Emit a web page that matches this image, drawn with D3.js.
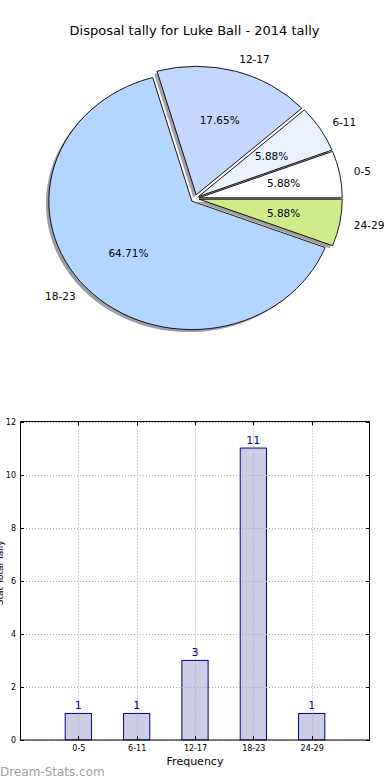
<!DOCTYPE html>
<html><head><meta charset="utf-8">
<script src="https://cdn.jsdelivr.net/npm/d3@7"></script>
<style>body{margin:0;background:#fff}svg{display:block}text{font-family:"DejaVu Sans",sans-serif}</style>
</head><body>
<svg id="c" width="390" height="780"></svg>
<script>
const categories = ["0-5","6-11","12-17","18-23","24-29"];
const values = [1,1,3,11,1];
const sliceColors = ["#ffffff","#e9f1ff","#c4d8ff","#b4d5ff","#cfeb8b"];
const yTicks = [0,2,4,6,8,10,12];
const title = "Disposal tally for Luke Ball - 2014 tally";
const xLabel = "Frequency";
const yLabel = "Stat Total Tally";

const svg = d3.select("#c");
svg.append("rect").attr("width",390).attr("height",780).attr("fill","#fff");

svg.append("text").attr("x",194.5).attr("y",35).attr("text-anchor","middle")
  .attr("font-size",13).attr("fill","#000").text(title);

// ---------- pie ----------
const cx=195, cy=198.5, rx=143, ry=128.5, EXPLODE=0.03;
const total = d3.sum(values);
const pie = d3.pie().sort(null).startAngle(Math.PI/2).endAngle(Math.PI/2-2*Math.PI);
const arcs = pie(values);
const arcGen = d3.arc().innerRadius(0).outerRadius(rx);
function off(d){
  const a=(d.startAngle+d.endAngle)/2;
  return {a, ox: EXPLODE*rx*Math.sin(a), oy: -EXPLODE*ry*Math.cos(a)};
}
const gp = svg.append("g");
// shadows
gp.selectAll("path.sh").data(arcs).join("path").attr("class","sh")
  .attr("d",arcGen)
  .attr("transform",d=>{const o=off(d);return `translate(${cx+o.ox-2.9},${cy+o.oy+2.5}) scale(1,${ry/rx})`;})
  .attr("fill",(d,i)=>{const c=d3.rgb(sliceColors[i]);return d3.rgb(c.r*0.3,c.g*0.3,c.b*0.3);})
  .attr("fill-opacity",0.5).attr("stroke","none");
gp.selectAll("path.w").data(arcs).join("path").attr("class","w")
  .attr("d",arcGen)
  .attr("transform",d=>{const o=off(d);return `translate(${cx+o.ox},${cy+o.oy}) scale(1,${ry/rx})`;})
  .attr("fill",(d,i)=>sliceColors[i]).attr("stroke","#000").attr("stroke-width",0.9)
  .attr("vector-effect","non-scaling-stroke").attr("stroke-linejoin","round");
// labels
gp.selectAll("text.lab").data(arcs).join("text").attr("class","lab")
  .attr("x",d=>{const o=off(d);return cx+o.ox+1.1*rx*Math.sin(o.a);})
  .attr("y",d=>{const o=off(d);return cy+o.oy-1.1*ry*Math.cos(o.a);})
  .attr("dy","0.35em")
  .attr("text-anchor",d=>Math.sin(off(d).a)>0?"start":"end")
  .attr("font-size",10.5).attr("fill","#000")
  .text((d,i)=>categories[i]);
gp.selectAll("text.pct").data(arcs).join("text").attr("class","pct")
  .attr("x",d=>{const o=off(d);return cx+o.ox+0.6*rx*Math.sin(o.a);})
  .attr("y",d=>{const o=off(d);return cy+o.oy-0.6*ry*Math.cos(o.a);})
  .attr("dy","0.35em").attr("text-anchor","middle")
  .attr("font-size",10.5).attr("fill","#000")
  .text(d=>(d.value/total*100).toFixed(2)+"%");

// ---------- bar ----------
const L=20,R=370,T=421.5,B=740;
const x = d3.scaleLinear().domain([-1,categories.length]).range([L,R]);
const y = d3.scaleLinear().domain([0,12]).range([B,T]);
const gb = svg.append("g");
const bw = 0.45;
gb.selectAll("rect.bar").data(values).join("rect").attr("class","bar")
  .attr("x",(d,i)=>x(i-bw/2)).attr("width",(d,i)=>x(i+bw/2)-x(i-bw/2))
  .attr("y",d=>y(d)).attr("height",d=>y(0)-y(d))
  .attr("fill","#cccce5").attr("stroke","#000080").attr("stroke-width",1);
// grid
const grid = gb.append("g").attr("stroke","#aaa").attr("stroke-width",1).attr("stroke-dasharray","1,2");
grid.selectAll("line.h").data(yTicks).join("line")
  .attr("x1",L).attr("x2",R).attr("y1",d=>Math.round(y(d))+0.5).attr("y2",d=>Math.round(y(d))+0.5);
grid.selectAll("line.v").data(categories).join("line")
  .attr("y1",T).attr("y2",B).attr("x1",(d,i)=>Math.round(x(i))+0.5).attr("x2",(d,i)=>Math.round(x(i))+0.5);
// value labels
gb.selectAll("text.val").data(values).join("text")
  .attr("x",(d,i)=>x(i)).attr("y",d=>y(d)-4).attr("text-anchor","middle")
  .attr("font-size",11).attr("fill","#00008b").text(d=>d);
// axes via d3
const yAxis = d3.axisLeft(y).tickValues(yTicks).tickSize(0).tickPadding(4);
const ya = gb.append("g").attr("transform",`translate(${L},0)`).call(yAxis);
ya.select(".domain").remove();
ya.selectAll("text").attr("font-size",8).attr("font-family","DejaVu Sans").attr("fill","#000");
const xAxis = d3.axisBottom(x).tickValues(d3.range(categories.length)).tickFormat(i=>categories[i]).tickSize(0).tickPadding(5);
const xa = gb.append("g").attr("transform",`translate(0,${B})`).call(xAxis);
xa.select(".domain").remove();
xa.selectAll("text").attr("font-size",8).attr("font-family","DejaVu Sans").attr("fill","#000");
// ticks inward
const tk = gb.append("g").attr("stroke","#000").attr("stroke-width",1);
yTicks.forEach(v=>{const yy=Math.round(y(v))+0.5;
  tk.append("line").attr("x1",L).attr("x2",L+4).attr("y1",yy).attr("y2",yy);
  tk.append("line").attr("x1",R-4).attr("x2",R).attr("y1",yy).attr("y2",yy);});
categories.forEach((c,i)=>{const xx=Math.round(x(i))+0.5;
  tk.append("line").attr("x1",xx).attr("x2",xx).attr("y1",B).attr("y2",B-4);
  tk.append("line").attr("x1",xx).attr("x2",xx).attr("y1",T).attr("y2",T+4);});
gb.append("rect").attr("x",L+0.5).attr("y",T).attr("width",R-L-1).attr("height",B-T)
  .attr("fill","none").attr("stroke","#000").attr("stroke-width",1);
gb.append("text").attr("x",(L+R)/2).attr("y",765).attr("text-anchor","middle")
  .attr("font-size",11).attr("fill","#000").text(xLabel);
gb.append("text").attr("transform",`translate(3,${(T+B)/2-8}) rotate(-90)`).attr("text-anchor","middle")
  .attr("font-size",9).attr("fill","#000").text(yLabel);
svg.append("text").attr("x",0).attr("y",776).attr("font-size",12)
  .attr("fill","#a0a0a0").attr("font-family","'Open Sans',sans-serif").text("Dream-Stats.com");
</script>
</body></html>
